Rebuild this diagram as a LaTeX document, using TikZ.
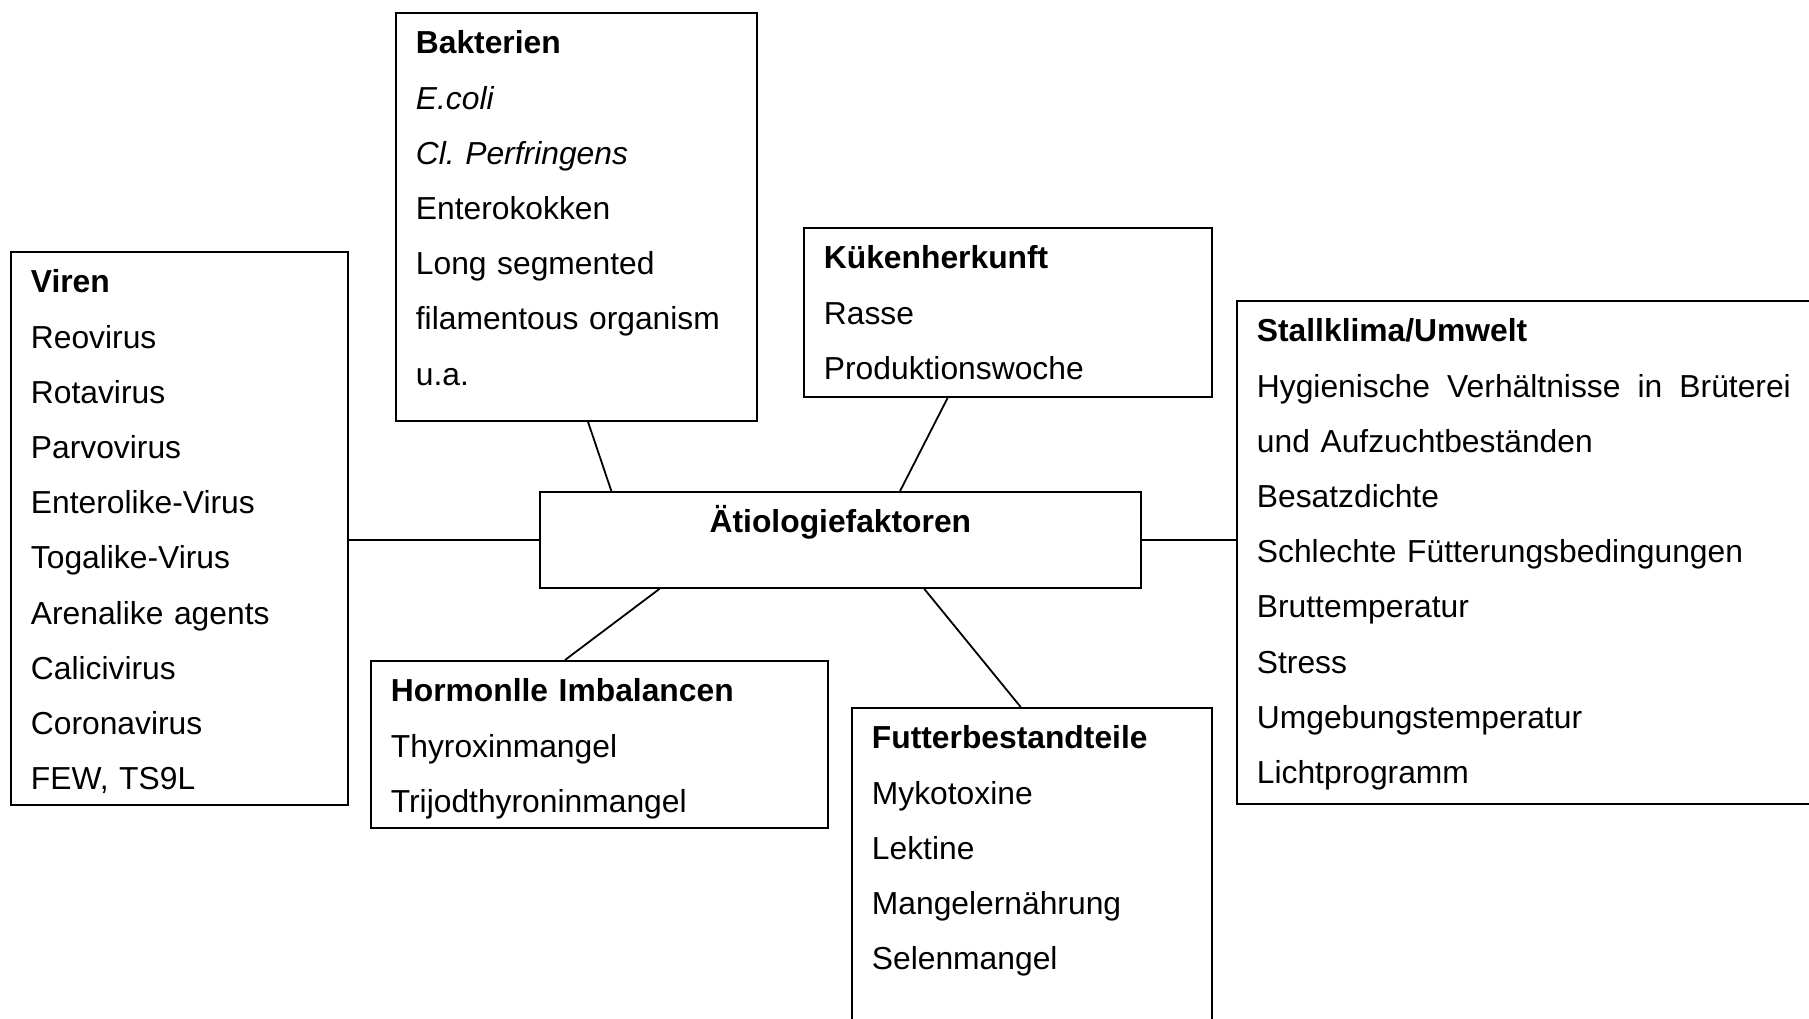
\documentclass[tikz,border=0pt]{standalone}
\usepackage{fontspec}
\setmainfont{Liberation Sans}
\usetikzlibrary{calc}

\tikzset{
  box/.style={draw, line width=0.9pt, anchor=north west, align=left,
    inner xsep=10pt, inner ysep=0pt, text height=20.5pt,
    font=\fontsize{15.9}{27.6}\selectfont},
  link/.style={draw, line width=0.9pt}
}

\begin{document}
\begin{tikzpicture}[x=0.5pt, y=-0.5pt]
  \useasboundingbox (0,0) rectangle (1809,1018);
  \clip (0,0) rectangle (1809,1018);

  % centre
  \node[box, align=center, text width=280.5pt, text depth=27.5pt] (aet) at (539,491)
    {\textbf{Ätiologiefaktoren}};

  % factor groups
  \node[box, text width=148.5pt, text depth=256pt] (viren) at (10,251)
    {\textbf{Viren}\\Reovirus\\Rotavirus\\Parvovirus\\Enterolike-Virus\\Togalike-Virus\\
     Arenalike agents\\Calicivirus\\Coronavirus\\FEW, TS9L};
  \node[box, text width=160.5pt, text depth=183.5pt] (bakt) at (395,12)
    {\textbf{Bakterien}\\\textit{E.coli}\\\textit{Cl.\ Perfringens}\\Enterokokken\\
     Long segmented\\filamentous organism\\u.a.};
  \node[box, text width=184pt, text depth=64pt] (kueken) at (803,227)
    {\textbf{Kükenherkunft}\\Rasse\\Produktionswoche};
  \node[box, text width=267.5pt, text depth=231pt] (stall) at (1236,300)
    {\textbf{Stallklima/Umwelt}\\
     \leavevmode\hbox to 267pt{Hygienische\hfill Verhältnisse\hfill in\hfill Brüterei}\\
     und Aufzuchtbeständen\\Besatzdichte\\Schlechte Fütterungsbedingungen\\
     Bruttemperatur\\Stress\\Umgebungstemperatur\\Lichtprogramm};
  \node[box, text width=208.5pt, text depth=63pt] (hormon) at (370,660)
    {\textbf{Hormonlle Imbalancen}\\Thyroxinmangel\\Trijodthyroninmangel};
  \node[box, text width=160pt, text depth=149.5pt] (futter) at (851,707)
    {\textbf{Futterbestandteile}\\Mykotoxine\\Lektine\\Mangelernährung\\Selenmangel};

  % connectors
  \draw[link] (aet.west) -- (aet.west -| viren.east);
  \draw[link] (aet.east) -- (aet.east -| stall.west);
  \draw[link] ($(bakt.south west)!0.532!(bakt.south east)$) -- ($(aet.north west)!0.12!(aet.north east)$);
  \draw[link] ($(kueken.south west)!0.353!(kueken.south east)$) -- ($(aet.north west)!0.599!(aet.north east)$);
  \draw[link] ($(hormon.north west)!0.425!(hormon.north east)$) -- ($(aet.south west)!0.2!(aet.south east)$);
  \draw[link] ($(futter.north west)!0.469!(futter.north east)$) -- ($(aet.south west)!0.639!(aet.south east)$);
\end{tikzpicture}
\end{document}
